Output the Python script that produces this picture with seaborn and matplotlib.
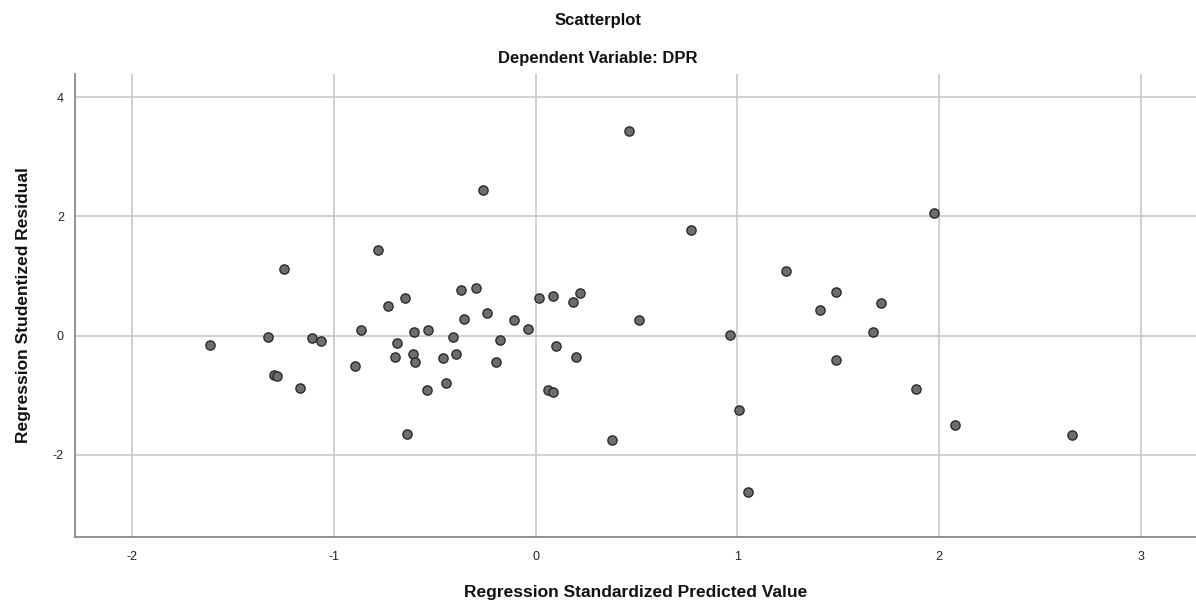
import matplotlib
matplotlib.use("Agg")
import matplotlib.pyplot as plt
import seaborn as sns
import pandas as pd

# Data
predicted = [-1.614, -1.324, -1.297, -1.279, -1.245, -1.167, -1.106, -1.063, -0.894, -0.865,
             -0.779, -0.732, -0.695, -0.685, -0.645, -0.637, -0.609, -0.601, -0.596, -0.539,
             -0.531, -0.457, -0.445, -0.409, -0.394, -0.368, -0.354, -0.295, -0.262, -0.240,
             -0.196, -0.176, -0.105, -0.036, 0.016, 0.062, 0.087, 0.088, 0.102, 0.186,
             0.202, 0.219, 0.381, 0.462, 0.514, 0.769, 0.965, 1.010, 1.053, 1.240,
             1.410, 1.490, 1.490, 1.672, 1.714, 1.887, 1.975, 2.077, 2.659]
residual = [-0.159, -0.030, -0.668, -0.685, 1.116, -0.886, -0.042, -0.087, -0.512, 0.097,
            1.440, 0.495, -0.356, -0.131, 0.629, -1.658, -0.305, 0.059, -0.450, -0.909,
            0.097, -0.372, -0.797, -0.020, -0.315, 0.768, 0.277, 0.805, 2.441, 0.383,
            -0.440, -0.081, 0.260, 0.114, 0.624, -0.914, -0.948, 0.663, -0.176, 0.562,
            -0.356, 0.708, -1.753, 3.431, 0.255, 1.775, 0.008, -1.255, -2.626, 1.079,
            0.433, 0.738, -0.411, 0.054, 0.540, -0.893, 2.050, -1.502, -1.664]
x_ticks = [-2, -1, 0, 1, 2, 3]
y_ticks = [-2, 0, 2, 4]

title = "Scatterplot"
subtitle = "Dependent Variable: DPR"
x_label = "Regression Standardized Predicted Value"
y_label = "Regression Studentized Residual"

df = pd.DataFrame({"pred": predicted, "resid": residual})

sns.set_theme(style="white")
plt.rcParams['font.family'] = ['Liberation Sans', 'DejaVu Sans']

fig = plt.figure(figsize=(11.96, 6.03), dpi=100)
ax = fig.add_axes([75 / 1196, 1 - 536.7 / 603, 1 - 75 / 1196, (536.7 - 74) / 603])

sns.scatterplot(data=df, x="pred", y="resid", ax=ax, s=44,
                color="#6e6e6e", edgecolor="#2a2a2a", linewidth=1.0, zorder=3)

ax.set_xlim(-2.282, 3.273)
ax.set_ylim(-3.376, 4.388)
ax.set_xticks(x_ticks)
ax.set_yticks(y_ticks)
ax.set_xticklabels([str(t) for t in x_ticks])
ax.set_yticklabels([str(t) for t in y_ticks])

ax.grid(True, color="#c8c8c8", linewidth=1.2, zorder=0)
ax.set_axisbelow(True)
for side in ["top", "right"]:
    ax.spines[side].set_visible(False)
for side in ["left", "bottom"]:
    ax.spines[side].set_color("#8a8a8a")
    ax.spines[side].set_linewidth(1.3)

ax.tick_params(axis="both", length=0, labelsize=9, colors="#222222")
ax.tick_params(axis="x", pad=10)
ax.tick_params(axis="y", pad=8)

ax.set_xlabel(x_label, fontsize=12.5, fontweight="bold", color="#111111", labelpad=16)
ax.set_ylabel(y_label, fontsize=12.5, fontweight="bold", color="#111111", labelpad=16)

fig.text(598 / 1196, 1 - 20 / 603, title, ha="center", va="center",
         fontsize=12, fontweight="bold", color="#111111")
fig.text(598 / 1196, 1 - 58 / 603, subtitle, ha="center", va="center",
         fontsize=12, fontweight="bold", color="#111111")

fig.savefig("out.png", dpi=100)
